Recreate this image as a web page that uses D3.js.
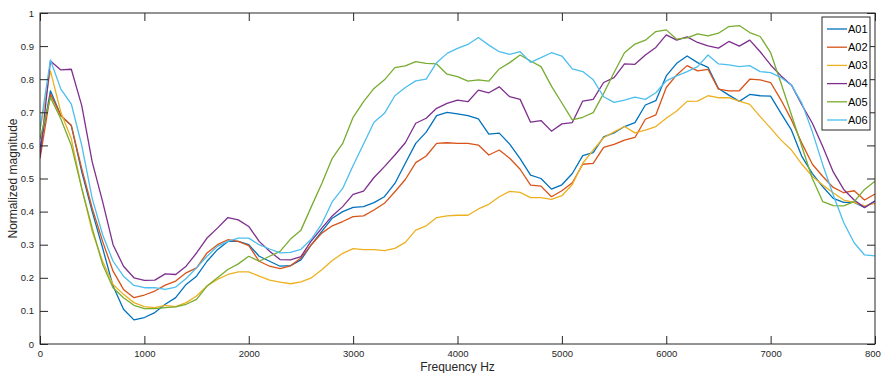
<!DOCTYPE html>
<html>
<head>
<meta charset="utf-8">
<script src="https://cdn.jsdelivr.net/npm/d3@7"></script>
<style>
  body { margin: 0; background: #fff; }
  svg { font-family: "Liberation Sans", Arial, Helvetica, sans-serif; }
  .tick text { fill: #262626; font-size: 9.5px; }
  .line { fill: none; stroke-width: 1.3; stroke-linejoin: round; }
</style>
</head>
<body>
<div id="chart"></div>
<script>
// Frequency bins, 0..8000 Hz every 100 Hz
const freqs = d3.range(0, 8001, 100);

const seriesNames = ['A01', 'A02', 'A03', 'A04', 'A05', 'A06'];
const seriesColors = ['#0072BD', '#D95319', '#EDB120', '#7E2F8E', '#77AC30', '#4DBEEE'];

const a01 = [0.59, 0.765, 0.69, 0.66, 0.52, 0.40, 0.29, 0.175, 0.105, 0.073,
  0.08, 0.095, 0.12, 0.14, 0.18, 0.205, 0.25, 0.285, 0.31, 0.31,
  0.30, 0.265, 0.25, 0.235, 0.237, 0.254, 0.30, 0.34, 0.38, 0.40,
  0.413, 0.415, 0.427, 0.445, 0.485, 0.546, 0.606, 0.64, 0.69, 0.70,
  0.695, 0.69, 0.68, 0.634, 0.637, 0.604, 0.56, 0.51, 0.50, 0.468,
  0.481, 0.515, 0.569, 0.578, 0.626, 0.638, 0.657, 0.669, 0.722, 0.735,
  0.81, 0.848, 0.87, 0.85, 0.836, 0.772, 0.752, 0.733, 0.754, 0.75,
  0.749, 0.697, 0.646, 0.566, 0.515, 0.475, 0.44, 0.428, 0.428, 0.413,
  0.432];

const a02 = [0.56, 0.755, 0.69, 0.66, 0.53, 0.41, 0.31, 0.22, 0.165, 0.14,
  0.148, 0.16, 0.178, 0.19, 0.215, 0.23, 0.275, 0.30, 0.315, 0.31,
  0.297, 0.25, 0.235, 0.228, 0.236, 0.26, 0.30, 0.335, 0.357, 0.37,
  0.385, 0.387, 0.405, 0.425, 0.46, 0.497, 0.548, 0.568, 0.606, 0.608,
  0.606, 0.606, 0.601, 0.571, 0.586, 0.561, 0.528, 0.48, 0.477, 0.445,
  0.463, 0.487, 0.543, 0.546, 0.594, 0.603, 0.616, 0.624, 0.679, 0.692,
  0.775, 0.813, 0.841, 0.825, 0.83, 0.77, 0.765, 0.765, 0.80, 0.798,
  0.79, 0.737, 0.677, 0.606, 0.543, 0.506, 0.473, 0.457, 0.463, 0.435,
  0.453];

const a03 = [0.645, 0.825, 0.70, 0.62, 0.47, 0.34, 0.25, 0.18, 0.15, 0.125,
  0.113, 0.11, 0.117, 0.113, 0.125, 0.145, 0.175, 0.195, 0.21, 0.218,
  0.218, 0.205, 0.193, 0.187, 0.182, 0.188, 0.20, 0.224, 0.252, 0.274,
  0.288, 0.285, 0.285, 0.282, 0.289, 0.307, 0.344, 0.357, 0.382, 0.387,
  0.389, 0.389, 0.408, 0.422, 0.445, 0.461, 0.458, 0.442, 0.442, 0.437,
  0.448, 0.482, 0.546, 0.586, 0.623, 0.641, 0.657, 0.638, 0.646, 0.657,
  0.682, 0.704, 0.733, 0.734, 0.75, 0.744, 0.744, 0.734, 0.724, 0.687,
  0.652, 0.616, 0.586, 0.543, 0.506, 0.48, 0.457, 0.435, 0.428, 0.417,
  0.425];

const a04 = [0.565, 0.855, 0.828, 0.83, 0.72, 0.55, 0.43, 0.30, 0.235, 0.20,
  0.192, 0.193, 0.212, 0.21, 0.235, 0.275, 0.32, 0.35, 0.382, 0.375,
  0.355, 0.31, 0.28, 0.255, 0.254, 0.264, 0.312, 0.35, 0.387, 0.415,
  0.452, 0.462, 0.503, 0.536, 0.571, 0.608, 0.667, 0.682, 0.712, 0.727,
  0.737, 0.732, 0.767, 0.759, 0.777, 0.747, 0.739, 0.67, 0.675, 0.643,
  0.665, 0.669, 0.734, 0.739, 0.79, 0.805, 0.846, 0.845, 0.873, 0.896,
  0.934, 0.918, 0.928, 0.911, 0.901, 0.894, 0.914, 0.90, 0.918, 0.883,
  0.843, 0.81, 0.782, 0.722, 0.667, 0.596, 0.52, 0.467, 0.435, 0.412,
  0.432];

const a05 = [0.62, 0.745, 0.68, 0.60, 0.47, 0.35, 0.24, 0.17, 0.14, 0.117,
  0.107, 0.107, 0.11, 0.112, 0.12, 0.135, 0.175, 0.20, 0.225, 0.242,
  0.265, 0.25, 0.265, 0.28, 0.317, 0.344, 0.415, 0.485, 0.561, 0.606,
  0.685, 0.732, 0.772, 0.798, 0.835, 0.84, 0.853, 0.848, 0.846, 0.815,
  0.808, 0.794, 0.798, 0.794, 0.831, 0.85, 0.873, 0.855, 0.838, 0.779,
  0.728, 0.677, 0.685, 0.699, 0.757, 0.82, 0.88, 0.906, 0.918, 0.944,
  0.949, 0.921, 0.925, 0.937, 0.931, 0.939, 0.959, 0.962, 0.941, 0.929,
  0.88, 0.788, 0.692, 0.596, 0.50, 0.43, 0.418, 0.417, 0.43, 0.467,
  0.492];

const a06 = [0.65, 0.858, 0.77, 0.725, 0.60, 0.44, 0.33, 0.25, 0.205, 0.177,
  0.17, 0.17, 0.165, 0.172, 0.198, 0.23, 0.265, 0.295, 0.31, 0.32,
  0.32, 0.30, 0.287, 0.275, 0.277, 0.286, 0.317, 0.363, 0.43, 0.47,
  0.539, 0.604, 0.67, 0.697, 0.75, 0.775, 0.795, 0.80, 0.85, 0.878,
  0.893, 0.905, 0.926, 0.903, 0.883, 0.875, 0.883, 0.851, 0.865, 0.88,
  0.87, 0.831, 0.823, 0.798, 0.747, 0.73, 0.737, 0.746, 0.739, 0.759,
  0.795, 0.81, 0.823, 0.838, 0.873, 0.846, 0.843, 0.838, 0.841, 0.823,
  0.82, 0.805, 0.782, 0.727, 0.641, 0.541, 0.45, 0.367, 0.306, 0.269,
  0.266];

const seriesValues = [a01, a02, a03, a04, a05, a06];

const xTicks = d3.range(0, 8001, 1000);
const yTicks = d3.range(0, 1.001, 0.1);

const width = 881;
const height = 373;
const margin = { top: 13, right: 6, bottom: 29, left: 40 };
const innerW = width - margin.left - margin.right;
const innerH = height - margin.top - margin.bottom;
const axisColor = '#262626';
const tickLen = 8;

const svg = d3.select('#chart').append('svg')
    .attr('width', width)
    .attr('height', height);

const g = svg.append('g')
    .attr('transform', `translate(${margin.left},${margin.top})`);

const x = d3.scaleLinear().domain([0, 8000]).range([0, innerW]);
const y = d3.scaleLinear().domain([0, 1]).range([innerH, 0]);

// Lines (clipped to the axes box)
g.append('clipPath').attr('id', 'clip')
  .append('rect').attr('width', innerW).attr('height', innerH);

const line = d3.line()
    .x((d, i) => x(freqs[i]))
    .y(d => y(d));

g.append('g')
    .attr('clip-path', 'url(#clip)')
  .selectAll('path')
    .data(seriesValues)
  .enter().append('path')
    .attr('class', 'line')
    .attr('d', line)
    .style('stroke', (d, i) => seriesColors[i]);

// Axes, MATLAB style: inward ticks on all four sides
function styleAxis(sel) {
  sel.select('.domain').remove();
  sel.selectAll('.tick line').attr('stroke', axisColor);
}

g.append('g')
    .attr('transform', `translate(0,${innerH})`)
    .call(d3.axisBottom(x).tickValues(xTicks).tickSizeInner(-tickLen).tickSizeOuter(0)
      .tickPadding(6).tickFormat(d3.format('d')))
    .call(styleAxis);

g.append('g')
    .call(d3.axisTop(x).tickValues(xTicks).tickSizeInner(-tickLen).tickSizeOuter(0)
      .tickFormat(''))
    .call(styleAxis);

g.append('g')
    .call(d3.axisLeft(y).tickValues(yTicks).tickSizeInner(-tickLen).tickSizeOuter(0)
      .tickPadding(6).tickFormat(d => (d === 0 || Math.abs(d - 1) < 1e-9) ? d3.format('d')(d) : d3.format('.1f')(d)))
    .call(styleAxis);

g.append('g')
    .attr('transform', `translate(${innerW},0)`)
    .call(d3.axisRight(y).tickValues(yTicks).tickSizeInner(-tickLen).tickSizeOuter(0)
      .tickFormat(''))
    .call(styleAxis);

// Box
g.append('rect')
    .attr('width', innerW)
    .attr('height', innerH)
    .attr('fill', 'none')
    .attr('stroke', axisColor)
    .attr('stroke-width', 1);

// Axis titles
svg.append('text')
    .attr('x', margin.left + innerW / 2)
    .attr('y', 371)
    .attr('text-anchor', 'middle')
    .attr('fill', axisColor)
    .style('font-size', '12px')
    .text('Frequency Hz');

svg.append('text')
    .attr('transform', `translate(17,${margin.top + innerH / 2}) rotate(-90)`)
    .attr('text-anchor', 'middle')
    .attr('fill', axisColor)
    .style('font-size', '12px')
    .text('Normalized magnitude');

// Legend
const legend = svg.append('g')
    .attr('transform', 'translate(822,17)');

legend.append('rect')
    .attr('width', 48)
    .attr('height', 113)
    .attr('fill', '#fff')
    .attr('stroke', axisColor)
    .attr('stroke-width', 1);

const item = legend.selectAll('.item')
    .data(seriesNames)
  .enter().append('g')
    .attr('class', 'item')
    .attr('transform', (d, i) => `translate(0,${12 + i * 18.2})`);

item.append('line')
    .attr('x1', 5)
    .attr('x2', 25)
    .attr('stroke-width', 1.3)
    .attr('stroke', (d, i) => seriesColors[i]);

item.append('text')
    .attr('x', 26)
    .attr('dy', '0.35em')
    .attr('fill', '#000')
    .style('font-size', '11px')
    .text(d => d);
</script>
</body>
</html>
